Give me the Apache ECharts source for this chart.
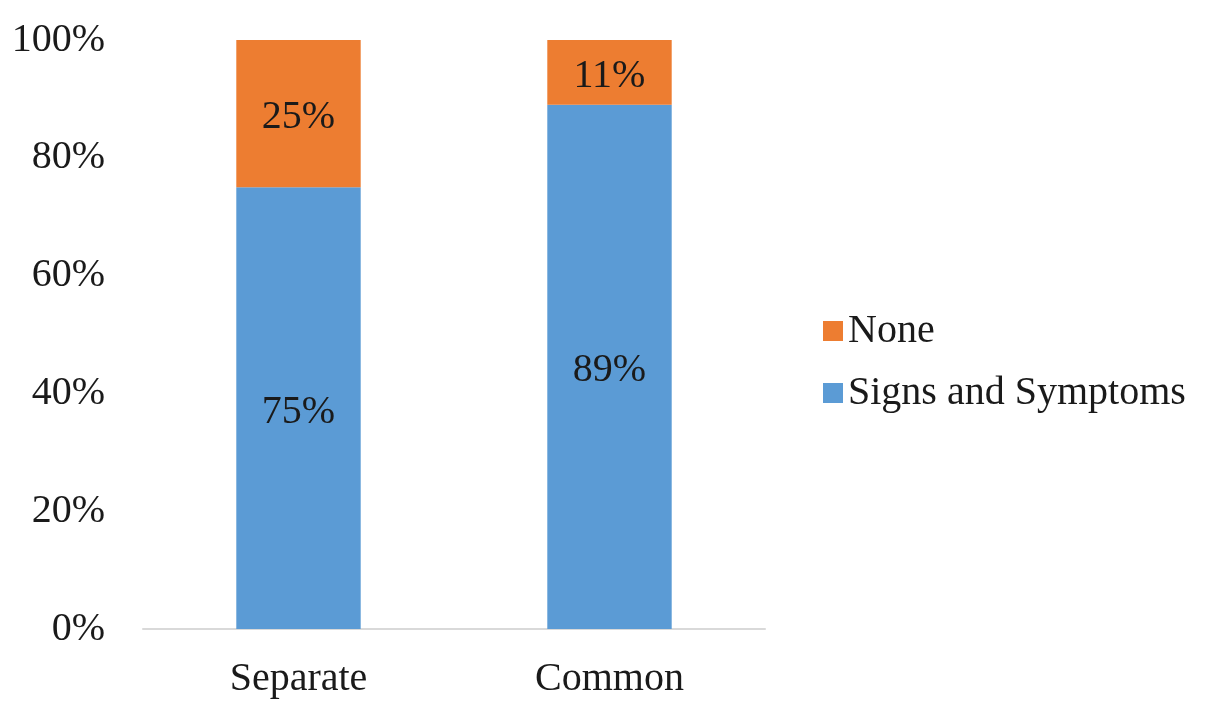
<!DOCTYPE html>
<html>
<head>
<meta charset="utf-8">
<script src="https://cdn.jsdelivr.net/npm/echarts@6/dist/echarts.min.js"></script>
<style>
  html, body { margin: 0; padding: 0; background: #fff; }
  #chart { width: 1210px; height: 704px; }
</style>
</head>
<body>
<div id="chart"></div>
<script>
  var categories = ['Separate', 'Common'];
  var signsValues = [75, 89];
  var noneValues = [25, 11];
  var yTicks = [0, 20, 40, 60, 80, 100];

  var font = '"Liberation Serif", "Times New Roman", serif';

  var chart = echarts.init(document.getElementById('chart'));
  chart.setOption({
    animation: false,
    textStyle: { fontFamily: font },
    grid: {
      left: 143,
      right: 445,
      top: 40,
      bottom: 75
    },
    legend: {
      orient: 'vertical',
      left: 818,
      top: 306,
      itemWidth: 20,
      itemHeight: 20,
      itemGap: 22,
      icon: 'rect',
      data: ['None', 'Signs and Symptoms'],
      textStyle: {
        fontFamily: font,
        fontSize: 40,
        color: '#1a1a1a'
      }
    },
    xAxis: {
      type: 'category',
      data: categories,
      axisLine: { lineStyle: { color: '#d9d9d9', width: 2 } },
      axisTick: { show: false },
      axisLabel: {
        fontFamily: font,
        fontSize: 40,
        color: '#1a1a1a',
        margin: 30
      }
    },
    yAxis: {
      type: 'value',
      min: yTicks[0],
      max: yTicks[yTicks.length - 1],
      interval: 20,
      axisLine: { show: false },
      axisTick: { show: false },
      splitLine: { show: false },
      axisLabel: {
        fontFamily: font,
        fontSize: 40,
        color: '#1a1a1a',
        margin: 38,
        padding: [6, 0, 0, 0],
        formatter: '{value}%'
      }
    },
    series: [
      {
        name: 'Signs and Symptoms',
        type: 'bar',
        stack: 'total',
        barWidth: '40%',
        data: signsValues,
        itemStyle: { color: '#5b9bd5' },
        label: {
          show: true,
          position: 'inside',
          offset: [0, 4],
          formatter: '{c}%',
          fontFamily: font,
          fontSize: 40,
          color: '#1a1a1a'
        }
      },
      {
        name: 'None',
        type: 'bar',
        stack: 'total',
        barWidth: '40%',
        data: noneValues,
        itemStyle: { color: '#ed7d31' },
        label: {
          show: true,
          position: 'inside',
          offset: [0, 4],
          formatter: '{c}%',
          fontFamily: font,
          fontSize: 40,
          color: '#1a1a1a'
        }
      }
    ]
  });
</script>
</body>
</html>
